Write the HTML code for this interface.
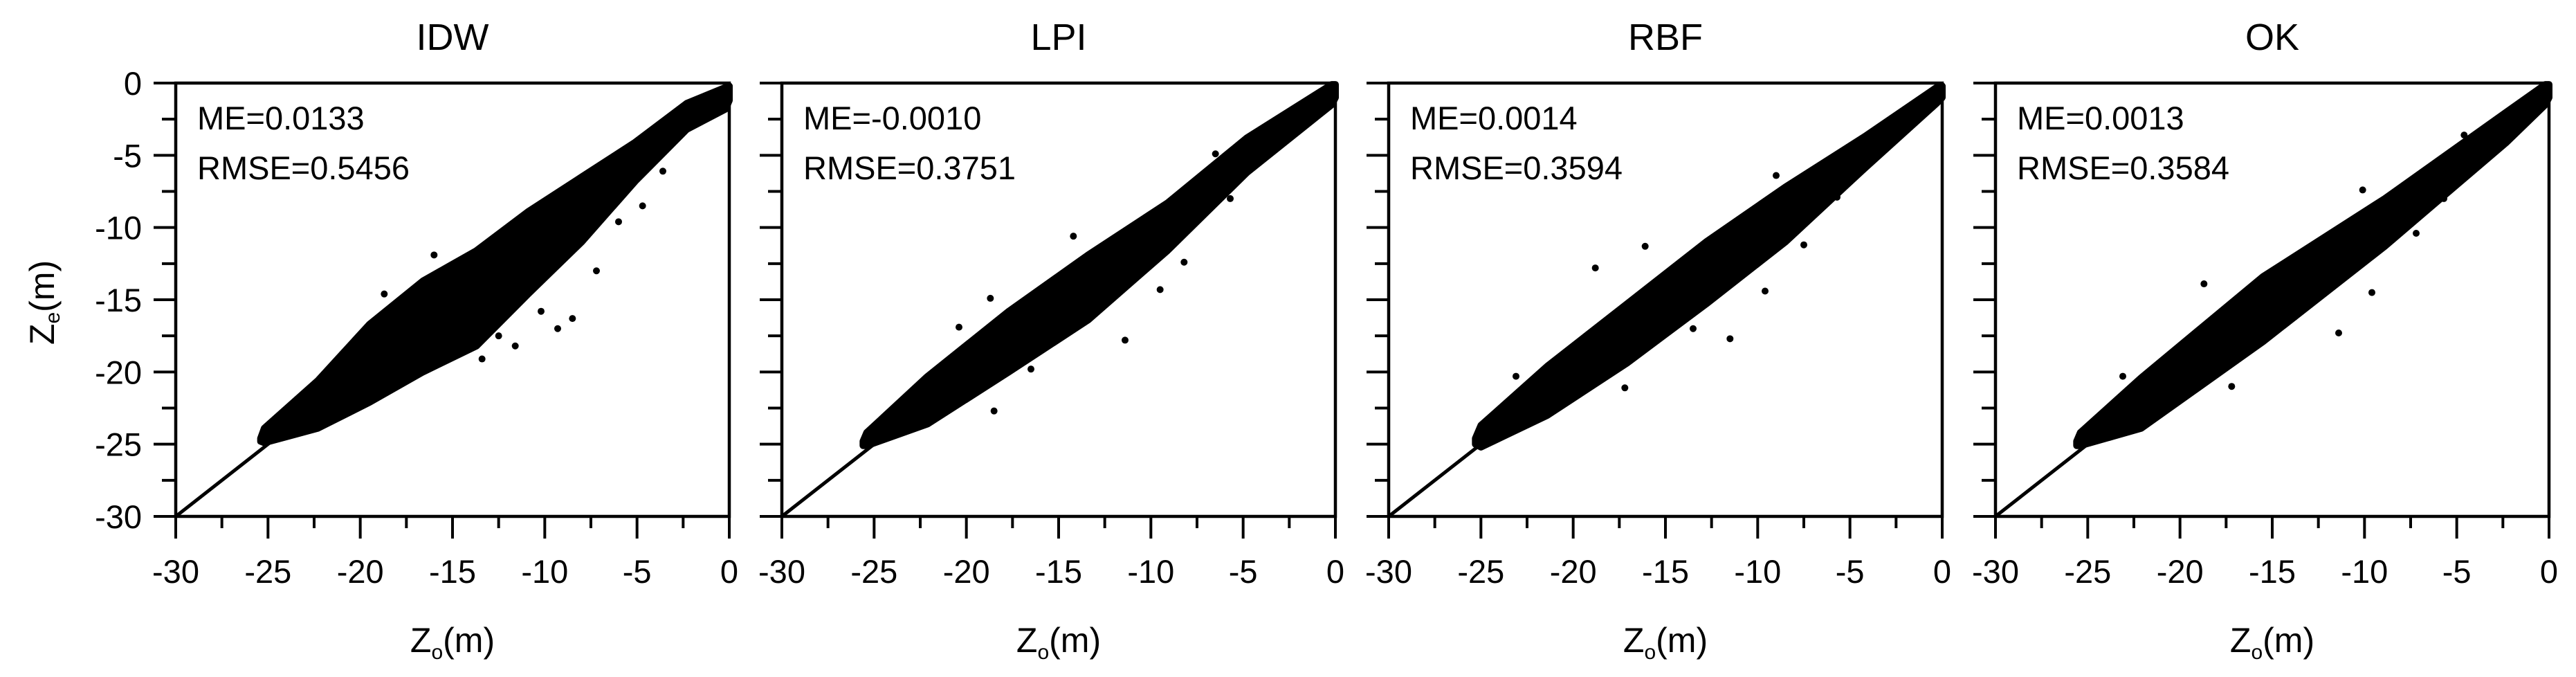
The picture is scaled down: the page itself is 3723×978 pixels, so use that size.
<!DOCTYPE html>
<html><head><meta charset="utf-8"><style>
html,body{margin:0;padding:0;background:#fff;}
svg{display:block;font-family:"Liberation Sans",Arial,sans-serif;}
</style></head><body>
<svg id="fig" width="3723" height="978" viewBox="0 0 3723 978"></svg>
<script>
// ---- data ----
const panelTitles = ["IDW","LPI","RBF","OK"];
const meValues = ["0.0133","-0.0010","0.0014","0.0013"];
const rmseValues = ["0.5456","0.3751","0.3594","0.3584"];
const xTickLabels = ["-30","-25","-20","-15","-10","-5","0"];
const yTickLabels = ["-30","-25","-20","-15","-10","-5","0"];
// dense cloud bands: observed x, estimated upper, estimated lower
const idwX = [-25.4,-25.2,-22.3,-19.5,-16.6,-13.7,-10.9,-8,-5.1,-2.3,-0.2,0];
const idwUp = [-24.6,-23.9,-20.6,-16.7,-13.7,-11.6,-8.9,-6.5,-4.1,-1.4,-0.3,-0.2];
const idwLo = [-24.8,-24.9,-23.9,-22.1,-20.0,-18.2,-14.6,-11.0,-6.8,-3.2,-1.8,-1.2];
const lpiX = [-25.6,-25.4,-22.1,-17.7,-13.4,-9.1,-4.8,-0.2,0];
const lpiUp = [-24.8,-24.2,-20.3,-15.8,-11.9,-8.3,-3.8,-0.1,-0.1];
const lpiLo = [-25.1,-25.1,-23.6,-20.0,-16.4,-11.6,-6.2,-1.5,-1.0];
const rbfX = [-25.3,-25.0,-21.4,-17.1,-12.8,-8.5,-4.2,-0.3,0];
const rbfUp = [-24.6,-23.7,-19.6,-15.3,-11.0,-7.2,-3.7,-0.3,-0.2];
const rbfLo = [-25.0,-25.2,-23.0,-19.4,-15.3,-11.0,-5.9,-1.4,-1.0];
const okX = [-25.6,-25.4,-22.1,-15.5,-8.9,-2.3,-0.2,0];
const okUp = [-24.8,-24.2,-20.4,-13.4,-8.0,-2.0,-0.1,-0.1];
const okLo = [-25.1,-25.1,-23.9,-17.9,-11.3,-4.1,-1.5,-1.0];
// outliers
const idwOutX = [-16.0,-18.7,-9.3,-8.5,-11.6,-4.7,-7.2,-3.6,-13.4,-10.2,-12.5,-6.0];
const idwOutY = [-11.9,-14.6,-17.0,-16.3,-18.2,-8.5,-13.0,-6.1,-19.1,-15.8,-17.5,-9.6];
const lpiOutX = [-11.4,-18.7,-20.4,-18.5,-6.5,-5.7,-9.5,-14.2,-16.5,-8.2];
const lpiOutY = [-17.8,-14.9,-16.9,-22.7,-4.9,-8.0,-14.3,-10.6,-19.8,-12.4];
const rbfOutX = [-18.8,-16.1,-11.5,-9.6,-23.1,-17.2,-5.7,-9.0,-13.5,-7.5];
const rbfOutY = [-12.8,-11.3,-17.7,-14.4,-20.3,-21.1,-7.9,-6.4,-17.0,-11.2];
const okOutX = [-18.7,-11.4,-17.2,-23.1,-9.6,-10.1,-5.7,-7.2,-13.8,-4.6];
const okOutY = [-13.9,-17.3,-21.0,-20.3,-14.5,-7.4,-8.0,-10.4,-16.2,-3.6];

const bandsX = [idwX,lpiX,rbfX,okX];
const bandsUp = [idwUp,lpiUp,rbfUp,okUp];
const bandsLo = [idwLo,lpiLo,rbfLo,okLo];
const outX = [idwOutX,lpiOutX,rbfOutX,okOutX];
const outY = [idwOutY,lpiOutY,rbfOutY,okOutY];

// ---- layout ----
const NS = "http://www.w3.org/2000/svg";
const svg = document.getElementById("fig");
const lefts = [254,1130,2007,2884];
const W = 800, TOP = 120, BOT = 746;
function mk(tag, attrs, parent){const e=document.createElementNS(NS,tag);for(const k in attrs)e.setAttribute(k,attrs[k]);(parent||svg).appendChild(e);return e;}

for(let p=0;p<4;p++){
  const L = lefts[p];
  const sx = v => L + (v+30)/30*W;
  const sy = v => BOT - (v+30)/30*(BOT-TOP);
  const g = mk("g",{});
  
  

  const t = mk("text",{x:L+W/2,y:72,"font-size":54,"text-anchor":"middle"},g);
  t.textContent = panelTitles[p];
  
  

  const dl = mk("line",{x1:sx(-30),y1:sy(-30),x2:sx(0),y2:sy(0),stroke:"#000","stroke-width":5},g);
  
  

  const xs=bandsX[p], up=bandsUp[p], lo=bandsLo[p];
  let pts=[];
  for(let i=0;i<xs.length;i++) pts.push(sx(xs[i])+","+sy(up[i]));
  for(let i=xs.length-1;i>=0;i--) pts.push(sx(xs[i])+","+sy(lo[i]));
  const cl = mk("polygon",{points:pts.join(" "),fill:"#000",stroke:"#000","stroke-width":10,"stroke-linejoin":"round"},g);
  
  
  for(let i=0;i<outX[p].length;i++){
    const c = mk("circle",{cx:sx(outX[p][i]),cy:sy(outY[p][i]),r:5,fill:"#000"},g);
    
    
  }

  const fr = mk("rect",{x:L,y:TOP,width:W,height:BOT-TOP,fill:"none",stroke:"#000","stroke-width":4.5},g);
  
  

  for(let v=-30; v<=0; v+=2.5){
    const major = (v%5===0);
    const tx = mk("line",{x1:sx(v),y1:BOT,x2:sx(v),y2:BOT+(major?32:17),stroke:"#000","stroke-width":4},g);
    
    
    const ty = mk("line",{x1:L,y1:sy(v),x2:L-(major?32:20),y2:sy(v),stroke:"#000","stroke-width":4},g);
    
    
  }
  xTickLabels.forEach((lab,i)=>{
    const v = -30+5*i;
    const tl = mk("text",{x:sx(v),y:842,"font-size":47,"text-anchor":"middle"},g);
    tl.textContent = lab;
    
    
  });
  if(p===0){
    yTickLabels.forEach((lab,i)=>{
      const v = -30+5*i;
      const tl = mk("text",{x:205,y:sy(v)+17,"font-size":47,"text-anchor":"end"},g);
      tl.textContent = lab;
      
      
    });
    const yt = mk("text",{x:0,y:0,"font-size":50,"text-anchor":"middle",transform:"translate(78,437) rotate(-90)"},g);
    yt.innerHTML = 'Z<tspan font-size="30" dy="8">e</tspan><tspan dy="-8">(m)</tspan>';
    
    
  }
  const xt = mk("text",{x:L+W/2,y:942,"font-size":50,"text-anchor":"middle"},g);
  xt.innerHTML = 'Z<tspan font-size="30" dy="10">o</tspan><tspan dy="-10">(m)</tspan>';
  
  

  const me = mk("text",{x:L+31,y:187,"font-size":47},g);
  me.textContent = "ME="+meValues[p];
  
  
  const rm = mk("text",{x:L+31,y:259,"font-size":47},g);
  rm.textContent = "RMSE="+rmseValues[p];
  
  
}
</script>
</body></html>
